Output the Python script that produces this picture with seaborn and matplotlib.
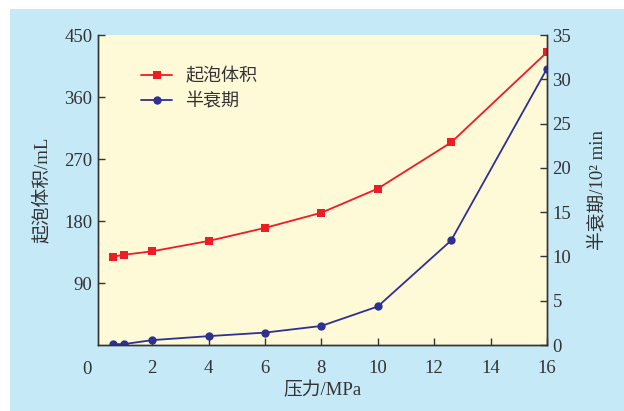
import matplotlib
matplotlib.use("Agg")
import matplotlib.pyplot as plt
import seaborn as sns
import pandas as pd
from matplotlib.patches import Rectangle
from matplotlib.lines import Line2D

pressure = [0.6, 1.0, 2.0, 4.0, 6.0, 8.0, 10.0, 12.6, 16.0]
foam_volume = [128, 131, 136, 151, 170, 192, 227, 294, 425]
half_life = [0.1, 0.1, 0.55, 1.0, 1.4, 2.15, 4.35, 11.8, 31.2]
x_ticks = [2, 4, 6, 8, 10, 12, 14, 16]
left_ticks = [90, 180, 270, 360, 450]
right_ticks = [0, 5, 10, 15, 20, 25, 30, 35]
series_names = ["起泡体积", "半衰期"]

sns.set_style("ticks")
plt.rcParams['font.family'] = ['Liberation Serif', 'Noto Sans CJK SC', 'DejaVu Sans']

RED = "#ee1c25"
BLUE = "#2e3192"
BG = "#c6e9f8"
PLOT_BG = "#fef9d7"
TXT = "#333333"

df = pd.DataFrame({"p": pressure, "v": foam_volume, "h": half_life})

fig = plt.figure(figsize=(6.24, 4.11), dpi=100, facecolor=BG)
fig.patches.append(Rectangle((0, 1 - 9/411), 1, 9/411, transform=fig.transFigure,
                             facecolor="white", edgecolor="none", zorder=-1))
fig.patches.append(Rectangle((0, 0), 10/624, 1, transform=fig.transFigure,
                             facecolor="white", edgecolor="none", zorder=-1))

ax = fig.add_axes([98/624, 66/411, (547-98)/624, (345-35)/411])
ax.set_facecolor(PLOT_BG)
ax2 = ax.twinx()

sns.lineplot(data=df, x="p", y="v", ax=ax, color=RED, marker="s", markersize=6,
             markeredgewidth=0, linewidth=1.3)
sns.lineplot(data=df, x="p", y="h", ax=ax2, color=BLUE, marker="o", markersize=6,
             markeredgewidth=0, linewidth=1.3)

ax.set_xlim(0.08, 16)
ax.set_ylim(0, 450)
ax2.set_ylim(0, 35)
ax.set_xticks(x_ticks)
ax.set_yticks(left_ticks)
ax2.set_yticks(right_ticks)

for a in (ax, ax2):
    a.tick_params(direction="in", length=5, width=1, colors="#333333",
                  labelcolor=TXT, labelsize=13.5)
    for s in a.spines.values():
        s.set_color("#333333")
        s.set_linewidth(1.0)
    a.spines["top"].set_visible(False)
ax.tick_params(axis="x", pad=11)
ax.tick_params(axis="y", pad=4)
ax2.tick_params(axis="y", pad=4)

ax.text(-0.025, -0.05, "0", transform=ax.transAxes, ha="center", va="top",
        fontsize=13.5, color=TXT)

ax.set_xlabel("压力/MPa", fontsize=13.5, color=TXT, labelpad=3)
ax.set_ylabel("起泡体积/mL", fontsize=13.5, color=TXT, labelpad=10)
ax2.set_ylabel("半衰期/10² min", fontsize=13.5, color=TXT, labelpad=13)

handles = [Line2D([], [], color=RED, marker="s", markersize=6, markeredgewidth=0, linewidth=1.3),
           Line2D([], [], color=BLUE, marker="o", markersize=6, markeredgewidth=0, linewidth=1.3)]
leg = ax.legend(handles, series_names, loc="upper left", bbox_to_anchor=(0.06, 0.945),
                frameon=False, fontsize=13, handlelength=1.7, handletextpad=0.75,
                labelspacing=0.45)
for t in leg.get_texts():
    t.set_color(TXT)

fig.savefig("out.png", dpi=100, facecolor=BG)
